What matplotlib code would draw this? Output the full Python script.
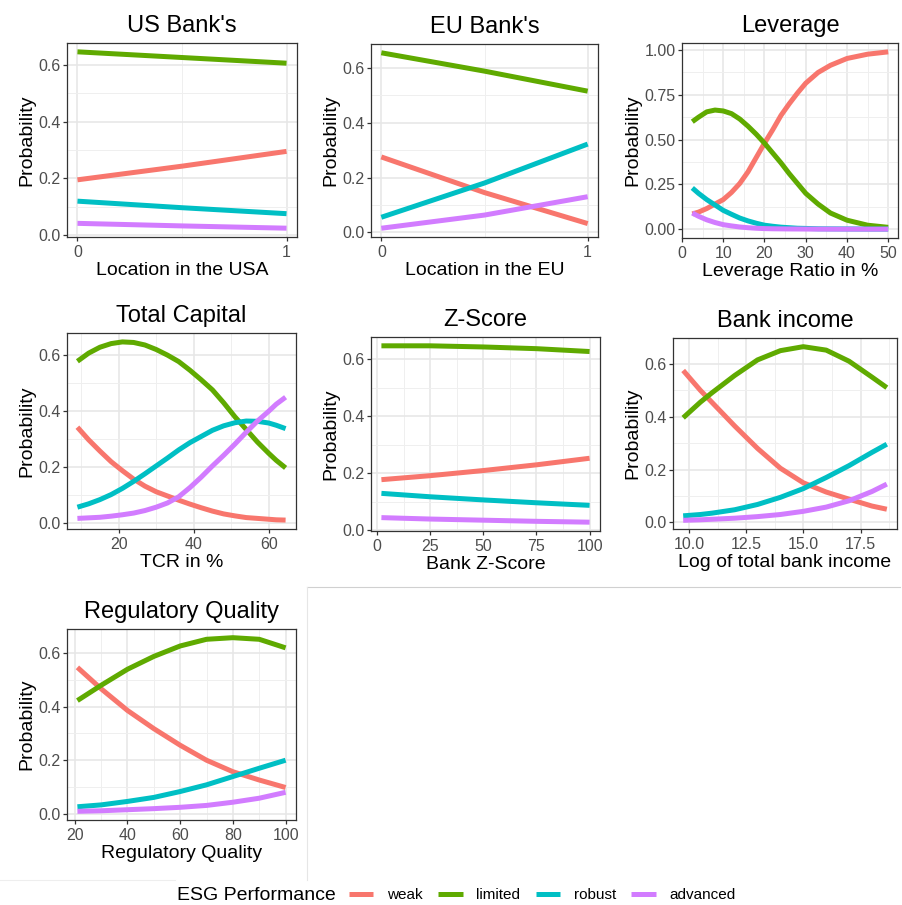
import numpy as np
import matplotlib.pyplot as plt
from matplotlib.lines import Line2D

plt.rcParams['font.family'] = ['Liberation Sans', 'DejaVu Sans']

W, H = 902, 905

LEVELS = ["weak", "limited", "robust", "advanced"]
COLORS = ["#F8766D", "#5FAA00", "#00BFC4", "#D27CFF"]

# US Bank's
us_x = [0, 0.5, 1]
us_weak = [0.195, 0.243, 0.295]
us_limited = [0.645, 0.625, 0.605]
us_robust = [0.12, 0.097, 0.076]
us_advanced = [0.042, 0.033, 0.025]

# EU Bank's
eu_x = [0, 0.5, 1]
eu_weak = [0.275, 0.145, 0.032]
eu_limited = [0.655, 0.588, 0.515]
eu_robust = [0.055, 0.18, 0.322]
eu_advanced = [0.015, 0.063, 0.13]

# Leverage
lev_x = [2.5, 4, 6, 8, 10, 12, 14, 16, 18, 20, 22, 24, 26, 28, 30, 33, 36, 40, 45, 50]
lev_weak = [0.085, 0.095, 0.115, 0.14, 0.165, 0.205, 0.255, 0.32, 0.40, 0.48,
            0.555, 0.635, 0.70, 0.76, 0.815, 0.875, 0.915, 0.953, 0.977, 0.99]
lev_limited = [0.60, 0.625, 0.655, 0.665, 0.66, 0.645, 0.615, 0.575, 0.53, 0.48,
               0.425, 0.37, 0.31, 0.255, 0.20, 0.14, 0.09, 0.05, 0.022, 0.01]
lev_robust = [0.23, 0.20, 0.165, 0.135, 0.105, 0.083, 0.062, 0.046, 0.033, 0.022,
              0.016, 0.011, 0.008, 0.005, 0.004, 0.002, 0.0015, 0.001, 0.0005, 0.0002]
lev_advanced = [0.09, 0.072, 0.052, 0.037, 0.025, 0.018, 0.012, 0.008, 0.005, 0.003,
                0.002, 0.0015, 0.001, 0.0008, 0.0005, 0.0003, 0.0002, 0.0001, 0.0, 0.0]

# Total Capital
tc_x = [9, 12, 15, 18, 21, 24, 27, 30, 33, 36, 39, 42, 45, 48, 51, 54, 57, 60, 62, 64.5]
tc_weak = [0.343, 0.298, 0.258, 0.22, 0.188, 0.158, 0.133, 0.113, 0.098, 0.083,
           0.069, 0.056, 0.044, 0.034, 0.027, 0.021, 0.018, 0.015, 0.013, 0.012]
tc_limited = [0.578, 0.607, 0.628, 0.641, 0.647, 0.645, 0.636, 0.62, 0.60, 0.577,
              0.546, 0.512, 0.476, 0.43, 0.38, 0.335, 0.29, 0.25, 0.225, 0.198]
tc_robust = [0.058, 0.07, 0.085, 0.103, 0.125, 0.15, 0.177, 0.205, 0.233, 0.262,
             0.288, 0.31, 0.332, 0.348, 0.359, 0.365, 0.364, 0.358, 0.35, 0.338]
tc_advanced = [0.018, 0.02, 0.022, 0.026, 0.031, 0.037, 0.046, 0.058, 0.073, 0.095,
               0.128, 0.165, 0.205, 0.243, 0.283, 0.325, 0.365, 0.40, 0.425, 0.45]

# Z-Score
z_x = [2, 25, 50, 75, 100]
z_weak = [0.178, 0.192, 0.21, 0.23, 0.253]
z_limited = [0.647, 0.647, 0.643, 0.637, 0.627]
z_robust = [0.13, 0.118, 0.107, 0.097, 0.088]
z_advanced = [0.045, 0.04, 0.036, 0.032, 0.029]

# Bank income
inc_x = [9.75, 10.5, 11, 12, 13, 14, 15, 16, 17, 18, 18.65]
inc_weak = [0.575, 0.50, 0.455, 0.365, 0.28, 0.205, 0.15, 0.115, 0.088, 0.062, 0.05]
inc_limited = [0.396, 0.455, 0.49, 0.556, 0.615, 0.65, 0.665, 0.652, 0.61, 0.55, 0.51]
inc_robust = [0.025, 0.03, 0.035, 0.048, 0.068, 0.095, 0.128, 0.17, 0.215, 0.265, 0.296]
inc_advanced = [0.008, 0.01, 0.012, 0.016, 0.022, 0.03, 0.042, 0.058, 0.082, 0.117, 0.145]

# Regulatory Quality
rq_x = [21, 30, 40, 50, 60, 70, 80, 90, 100]
rq_weak = [0.547, 0.467, 0.386, 0.318, 0.256, 0.20, 0.157, 0.126, 0.098]
rq_limited = [0.423, 0.48, 0.54, 0.588, 0.627, 0.652, 0.658, 0.652, 0.62]
rq_robust = [0.026, 0.033, 0.046, 0.061, 0.083, 0.108, 0.139, 0.17, 0.2]
rq_advanced = [0.009, 0.011, 0.015, 0.019, 0.024, 0.031, 0.043, 0.058, 0.08]

prob_ticks = [0.0, 0.2, 0.4, 0.6]
prob_labels = ["0.0", "0.2", "0.4", "0.6"]

panels = [
    ("US Bank's", "Location in the USA", us_x,
     [us_weak, us_limited, us_robust, us_advanced],
     [0, 1], ["0", "1"], prob_ticks, prob_labels, (67, 43, 297, 237)),
    ("EU Bank's", "Location in the EU", eu_x,
     [eu_weak, eu_limited, eu_robust, eu_advanced],
     [0, 1], ["0", "1"], prob_ticks, prob_labels, (371, 44, 598, 237)),
    ("Leverage", "Leverage Ratio in %", lev_x,
     [lev_weak, lev_limited, lev_robust, lev_advanced],
     [0, 10, 20, 30, 40, 50], ["0", "10", "20", "30", "40", "50"],
     [0, 0.25, 0.5, 0.75, 1.0], ["0.00", "0.25", "0.50", "0.75", "1.00"],
     (682, 43, 898, 238)),
    ("Total Capital", "TCR in %", tc_x,
     [tc_weak, tc_limited, tc_robust, tc_advanced],
     [20, 40, 60], ["20", "40", "60"], prob_ticks, prob_labels,
     (67, 333, 296, 529)),
    ("Z-Score", "Bank Z-Score", z_x,
     [z_weak, z_limited, z_robust, z_advanced],
     [0, 25, 50, 75, 100], ["0", "25", "50", "75", "100"],
     prob_ticks, prob_labels, (371, 337, 600, 531)),
    ("Bank income", "Log of total bank income", inc_x,
     [inc_weak, inc_limited, inc_robust, inc_advanced],
     [10, 12.5, 15, 17.5], ["10.0", "12.5", "15.0", "17.5"],
     prob_ticks, prob_labels, (673, 338, 897, 529)),
    ("Regulatory Quality", "Regulatory Quality", rq_x,
     [rq_weak, rq_limited, rq_robust, rq_advanced],
     [20, 40, 60, 80, 100], ["20", "40", "60", "80", "100"],
     prob_ticks, prob_labels, (67, 629, 296, 820)),
]


def px_box(l, t, r, b):
    return [l / W, 1 - b / H, (r - l) / W, (b - t) / H]


def padded(lo, hi):
    pad = 0.05 * (hi - lo)
    return lo - pad, hi + pad


def minor_breaks(major, lo, hi):
    step = major[1] - major[0]
    m = np.arange(major[0] - step / 2, major[-1] + step, step)
    return [v for v in m if lo <= v <= hi]


fig = plt.figure(figsize=(W / 100, H / 100), dpi=100)

for title, xlabel, x, series, xt, xtl, yt, ytl, box in panels:
    ax = fig.add_axes(px_box(*box))
    for y, col in zip(series, COLORS):
        ax.plot(x, y, color=col, lw=3.6, solid_capstyle='butt',
                solid_joinstyle='round')

    xlo, xhi = padded(min(x), max(x))
    allv = np.concatenate(series)
    ylo, yhi = padded(allv.min(), allv.max())
    ax.set_xlim(xlo, xhi)
    ax.set_ylim(ylo, yhi)

    ax.set_xticks(xt, xtl)
    ax.set_yticks(yt, ytl)
    ax.set_xticks(minor_breaks(xt, xlo, xhi), minor=True)
    ax.set_yticks(minor_breaks(yt, ylo, yhi), minor=True)
    ax.grid(which='major', color='#E6E6E6', lw=1.1)
    ax.grid(which='minor', color='#EFEFEF', lw=0.7)
    ax.set_axisbelow(True)

    for s in ax.spines.values():
        s.set_color('#333333')
        s.set_linewidth(0.9)
    ax.tick_params(which='major', length=3, width=0.9, color='#333333',
                   labelcolor='#4D4D4D', labelsize=11.5)
    ax.tick_params(axis='x', pad=2.5)
    ax.tick_params(axis='y', pad=1.5)
    ax.tick_params(which='minor', length=0)

    ax.set_title(title, fontsize=17, pad=8)
    ax.set_xlabel(xlabel, fontsize=14, labelpad=2)
    ax.set_ylabel("Probability", fontsize=14, labelpad=2)

# faint seams from the original composite
fig.add_artist(Line2D([307 / W, 900 / W], [1 - 587 / H, 1 - 587 / H], color='#D0D0D0', lw=0.8))
fig.add_artist(Line2D([307 / W, 307 / W], [1 - 587 / H, 1 - 880 / H], color='#E6E6E6', lw=0.8))
fig.add_artist(Line2D([0, 175 / W], [1 - 880 / H, 1 - 880 / H], color='#EEEEEE', lw=0.8))

# legend
fig.text(177 / W, 1 - 895 / H, "ESG Performance", fontsize=14, ha='left', va='center')
handles = [Line2D([], [], color=c, lw=3.6, solid_capstyle='butt') for c in COLORS]
fig.legend(handles, LEVELS, ncol=4, loc='center left',
           bbox_to_anchor=(349 / W, 1 - 895 / H), frameon=False, fontsize=11,
           handlelength=1.6, handletextpad=0.9, columnspacing=1.0,
           borderpad=0, borderaxespad=0)

fig.savefig("out.png", dpi=100)
